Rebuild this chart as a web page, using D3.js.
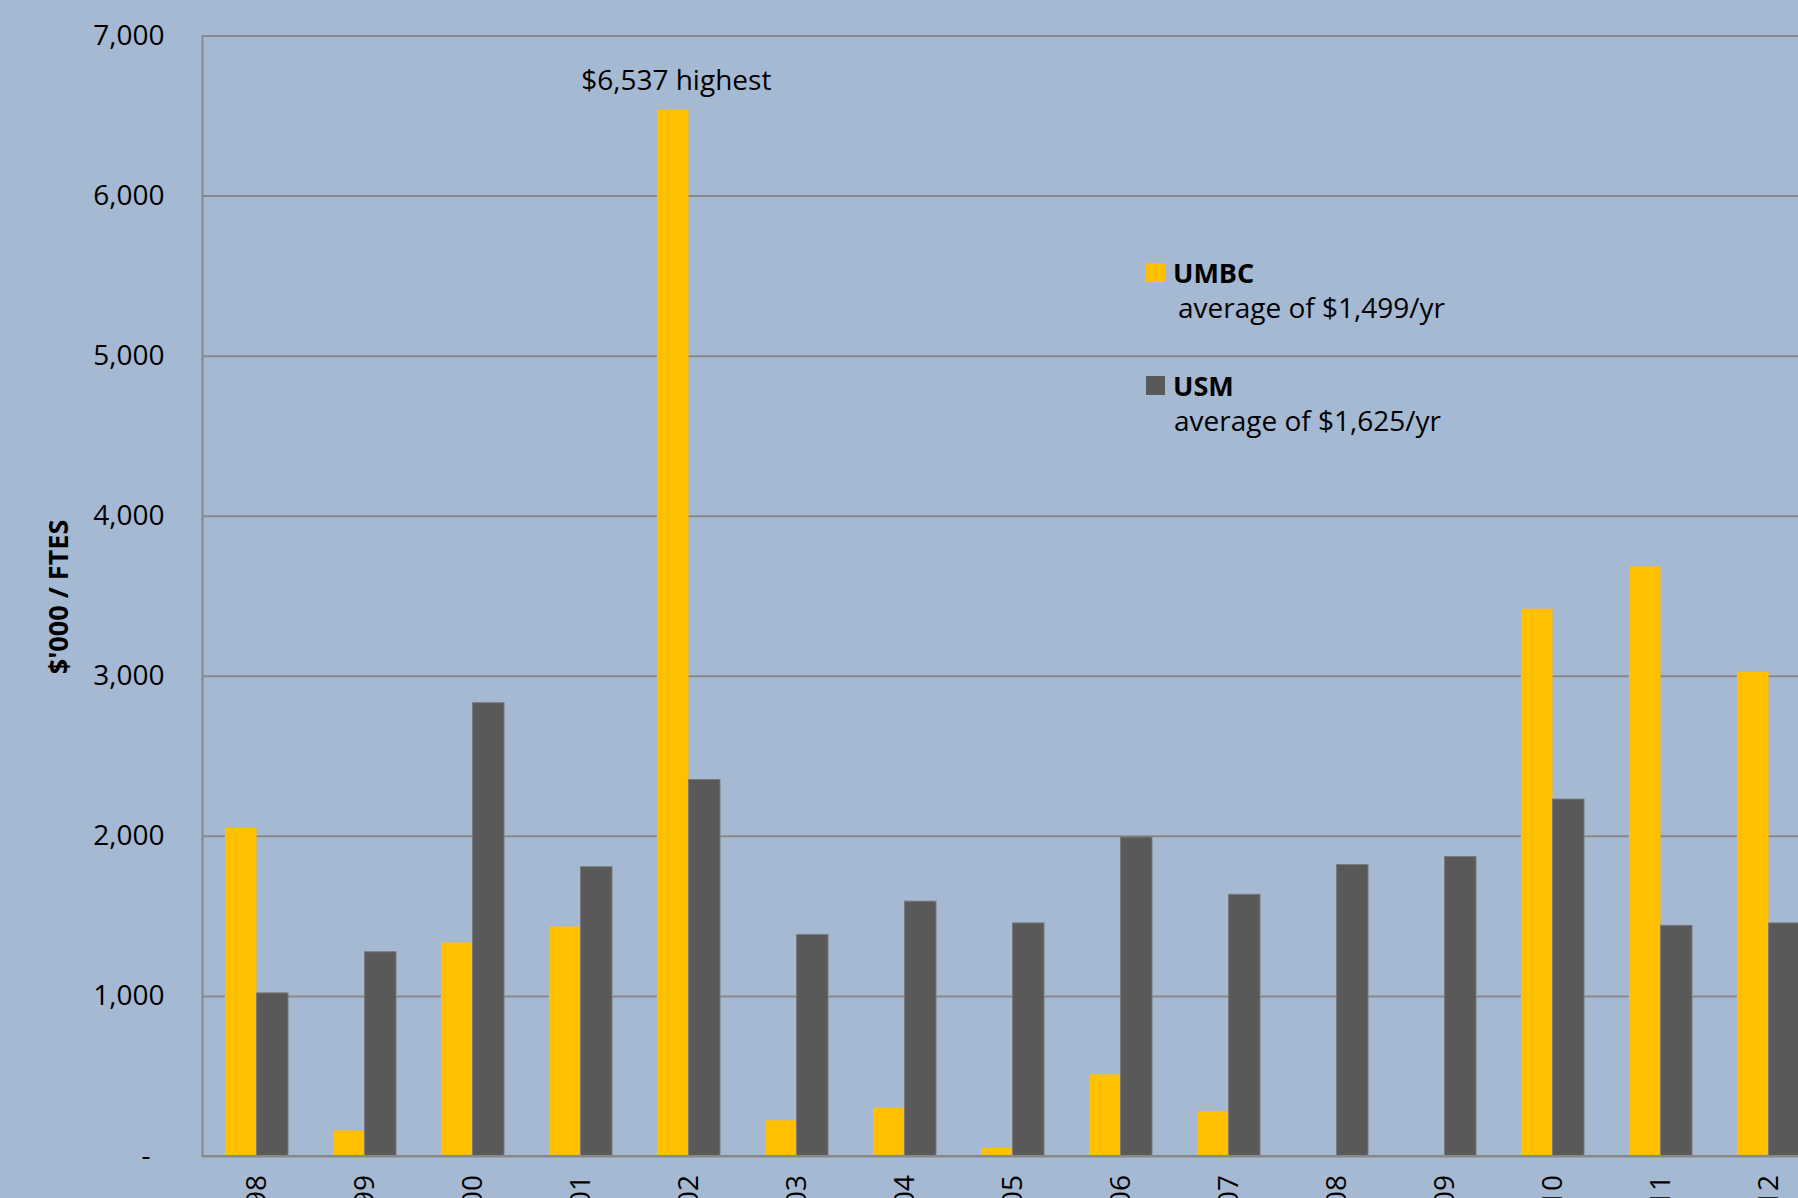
<!DOCTYPE html>
<html>
<head>
<meta charset="utf-8">
<script src="https://cdn.jsdelivr.net/npm/d3@7"></script>
<style>
  html, body { margin: 0; padding: 0; background: #a6b9d3; overflow: hidden; }
  svg { display: block; }
  text { font-family: "Open Sans", "Noto Sans", sans-serif; fill: #000; }
</style>
</head>
<body>
<svg id="chart" width="1798" height="1198"></svg>
<script>
// ---- data ----
const categories = ["FY98","FY99","FY00","FY01","FY02","FY03","FY04","FY05","FY06","FY07","FY08","FY09","FY10","FY11","FY12"];
const seriesNames = ["UMBC", "USM"];
const umbcValues = [2050, 160, 1334, 1434, 6537, 223, 302, 51, 510, 281, 0, 0, 3419, 3684, 3025];
const usmValues  = [1019, 1276, 2832, 1807, 2352, 1384, 1592, 1456, 1993, 1635, 1821, 1871, 2230, 1441, 1456];
const yTicks = [0, 1000, 2000, 3000, 4000, 5000, 6000, 7000];
const yTickLabels = ["-", "1,000", "2,000", "3,000", "4,000", "5,000", "6,000", "7,000"];
const legendSubtitles = ["average of $1,499/yr", "average of $1,625/yr"];
const annotationText = "$6,537 highest";
const yAxisTitle = "$'000 / FTES";

// ---- layout ----
const W = 1798, H = 1198;
const plotLeft = 202.5, plotTop = 35.5, plotBottom = 1156;
const step = 108;
const colors = { UMBC: "#ffc000", USM: "#595959" };

const svg = d3.select("#chart");
svg.append("rect").attr("width", W).attr("height", H).attr("fill", "#a6b9d3");

const x = d3.scaleBand()
  .domain(categories)
  .range([plotLeft, plotLeft + step * categories.length])
  .paddingInner(0.4167)
  .paddingOuter(0.20835);
const x1 = d3.scaleBand().domain(seriesNames).range([0, x.bandwidth()]);
const y = d3.scaleLinear().domain([0, 7000]).range([plotBottom, plotTop]);

// gridlines + y labels
const yAxis = d3.axisLeft(y)
  .tickValues(yTicks)
  .tickSize(-(W - plotLeft + 50))
  .tickPadding(38)
  .tickFormat((d, i) => yTickLabels[i]);
const gy = svg.append("g").attr("transform", `translate(${plotLeft},0)`).call(yAxis);
gy.select(".domain").remove();
gy.selectAll(".tick line").attr("stroke", "#898989").attr("stroke-width", 2);
gy.selectAll(".tick text")
  .attr("font-size", 28)
  .attr("fill", "#000")
  .attr("dx", d => d === 0 ? -14 : 0);

// bars
const rows = categories.map((c, i) => ({ cat: c, values: [
  { key: "UMBC", value: umbcValues[i] },
  { key: "USM", value: usmValues[i] }
]}));
const groups = svg.append("g").selectAll("g").data(rows).join("g")
  .attr("transform", d => `translate(${x(d.cat)},0)`);
groups.selectAll("rect").data(d => d.values.filter(v => v.value > 0)).join("rect")
  .attr("x", d => x1(d.key))
  .attr("width", x1.bandwidth())
  .attr("y", d => y(d.value))
  .attr("height", d => y(0) - y(d.value))
  .attr("fill", d => colors[d.key])
  .attr("stroke", d => d.key === "USM" ? "#7a7a7a" : "none")
  .attr("stroke-width", 1);

// axes lines
svg.append("line").attr("x1", plotLeft).attr("x2", plotLeft).attr("y1", plotTop).attr("y2", plotBottom + 1)
  .attr("stroke", "#898989").attr("stroke-width", 2);
svg.append("line").attr("x1", plotLeft).attr("x2", W + 10).attr("y1", plotBottom).attr("y2", plotBottom)
  .attr("stroke", "#898989").attr("stroke-width", 2);

// x labels (rotated)
const xAxis = d3.axisBottom(x).tickSize(0).tickPadding(0);
const gx = svg.append("g").attr("transform", `translate(0,${plotBottom})`).call(xAxis);
gx.select(".domain").remove();
gx.selectAll(".tick text")
  .attr("font-size", 28)
  .attr("fill", "#000")
  .attr("text-anchor", "end")
  .attr("transform", "translate(0,19) rotate(-90)")
  .attr("x", 0).attr("y", 0).attr("dy", "0.35em");

// y axis title
svg.append("text")
  .attr("transform", `translate(68,597) rotate(-90)`)
  .attr("text-anchor", "middle")
  .attr("font-size", 27)
  .attr("font-weight", "bold")
  .text(yAxisTitle);

// annotation
svg.append("text")
  .attr("x", x("FY02") + x1("UMBC") + x1.bandwidth() / 2 + 3.5)
  .attr("y", 90)
  .attr("text-anchor", "middle")
  .attr("font-size", 28)
  .text(annotationText);

// legend
const legendX = 1146;
const legendRows = [
  { key: "UMBC", sub: legendSubtitles[0], y: 283, subDx: 32 },
  { key: "USM", sub: legendSubtitles[1], y: 396, subDx: 28 }
];
const lg = svg.append("g");
legendRows.forEach(r => {
  lg.append("rect").attr("x", legendX).attr("y", r.y - 20).attr("width", 19).attr("height", 19)
    .attr("fill", colors[r.key]);
  lg.append("text").attr("x", legendX + 27).attr("y", r.y)
    .attr("font-size", 27).attr("font-weight", "bold").text(r.key);
  lg.append("text").attr("x", legendX + r.subDx).attr("y", r.y + 35)
    .attr("font-size", 28).text(r.sub);
});
</script>
</body>
</html>
